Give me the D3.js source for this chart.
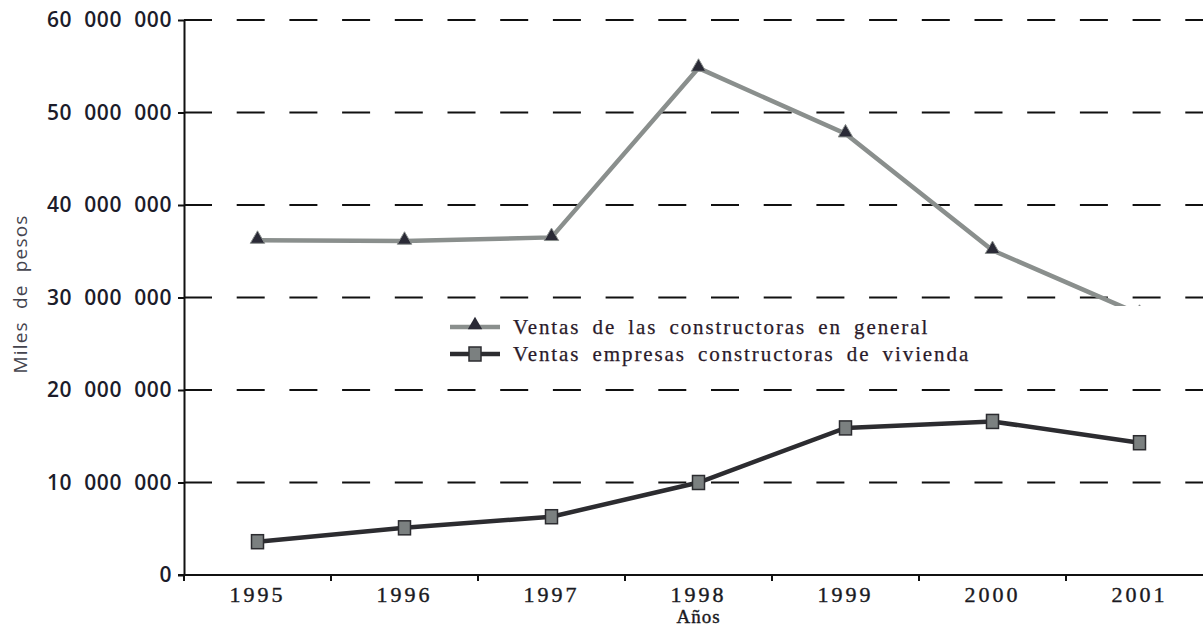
<!DOCTYPE html>
<html>
<head>
<meta charset="utf-8">
<script src="https://cdn.jsdelivr.net/npm/d3@7"></script>
<style>
  html, body { margin: 0; padding: 0; background: #fff; overflow: hidden; }
  svg { display: block; }
</style>
</head>
<body>
<div id="chart"></div>
<script>
// data
const years = ["1995", "1996", "1997", "1998", "1999", "2000", "2001"];
const ventasGeneral = [36200000, 36100000, 36500000, 54800000, 47700000, 35100000, 28200000];
const ventasVivienda = [3600000, 5100000, 6300000, 10000000, 15900000, 16600000, 14300000];
const yTicks = [0, 10000000, 20000000, 30000000, 40000000, 50000000, 60000000];
const legendLabels = ["Ventas de las constructoras en general", "Ventas empresas constructoras de vivienda"];

const width = 1203, height = 629;
const margin = { left: 184, bottom: 575, top: 20 };

const svg = d3.select("#chart").append("svg")
  .attr("width", width)
  .attr("height", height);

const x = d3.scaleBand().domain(years).range([margin.left, margin.left + 7 * 147]).padding(0);
const y = d3.scaleLinear().domain([0, 60000000]).range([margin.bottom, margin.top]);

const fmt = v => d3.format(",")(v).replace(/,/g, "  ");

// dashed grid
svg.append("g")
  .selectAll("line")
  .data(yTicks.slice(1))
  .join("line")
  .attr("x1", margin.left).attr("x2", width)
  .attr("y1", d => y(d)).attr("y2", d => y(d))
  .attr("stroke", "#111")
  .attr("stroke-width", 2)
  .attr("stroke-dasharray", "28,24.7");

// y axis
const yAxis = svg.append("g")
  .attr("transform", `translate(${margin.left},0)`)
  .call(d3.axisLeft(y).tickValues(yTicks).tickFormat(fmt).tickSizeInner(6).tickSizeOuter(0).tickPadding(6));
yAxis.select(".domain").attr("stroke", "#111").attr("stroke-width", 2);
yAxis.selectAll(".tick line").attr("stroke", "#111").attr("stroke-width", 2);
yAxis.selectAll(".tick text")
  .attr("fill", "#1c1c2a")
  .style("font-family", "'Open Sans', sans-serif")
  .style("font-size", "21px")
  .style("font-weight", 600)
  .style("letter-spacing", "0.6px")
  .style("white-space", "pre")
  .attr("dy", "0.32em");

// x axis
const xAxis = svg.append("g")
  .attr("transform", `translate(0,${margin.bottom})`)
  .call(d3.axisBottom(x).tickSize(0).tickPadding(8));
xAxis.select(".domain").remove();
xAxis.append("line")
  .attr("x1", margin.left - 6).attr("x2", width)
  .attr("stroke", "#111").attr("stroke-width", 2);
xAxis.selectAll(".bound")
  .data(years)
  .join("line")
  .attr("class", "bound")
  .attr("x1", d => x(d)).attr("x2", d => x(d))
  .attr("y1", 0).attr("y2", 6)
  .attr("stroke", "#111").attr("stroke-width", 2);
xAxis.selectAll(".tick text")
  .attr("fill", "#1a1a22")
  .attr("dy", "0.85em")
  .style("font-family", "'Liberation Serif', serif")
  .style("font-size", "22px")
  .style("letter-spacing", "3px")
  .attr("stroke", "#1a1a22")
  .attr("stroke-width", 0.4);

// axis titles
svg.append("text")
  .attr("x", x("1998") + x.bandwidth() / 2)
  .attr("y", 623)
  .attr("text-anchor", "middle")
  .attr("fill", "#1a1a22")
  .attr("stroke", "#1a1a22").attr("stroke-width", 0.4)
  .style("font-family", "'Liberation Serif', serif")
  .style("font-size", "19px")
  .style("letter-spacing", "1px")
  .text("Años");

svg.append("text")
  .attr("transform", `translate(27,${294}) rotate(-90)`)
  .attr("text-anchor", "middle")
  .attr("fill", "#44444e")
  .style("font-family", "'Open Sans', sans-serif")
  .style("font-size", "19px")
  .style("letter-spacing", "1.2px")
  .style("word-spacing", "6px")
  .text("Miles de pesos");

const line = d3.line()
  .x((d, i) => x(years[i]) + x.bandwidth() / 2)
  .y(d => y(d));

const tri = d3.symbol().type(d3.symbolTriangle).size(90);

// series 1
svg.append("path")
  .datum(ventasGeneral)
  .attr("fill", "none")
  .attr("stroke", "#8a8f8d")
  .attr("stroke-width", 4.5)
  .attr("d", line);
svg.append("g")
  .selectAll("path")
  .data(ventasGeneral)
  .join("path")
  .attr("transform", (d, i) => `translate(${x(years[i]) + x.bandwidth() / 2},${y(d) - 1})`)
  .attr("d", tri)
  .attr("fill", "#2a2a36")
  .attr("stroke", "#8a8f8d")
  .attr("stroke-width", 1);

// series 2
svg.append("path")
  .datum(ventasVivienda)
  .attr("fill", "none")
  .attr("stroke", "#2c2c30")
  .attr("stroke-width", 4.5)
  .attr("d", line);
svg.append("g")
  .selectAll("rect")
  .data(ventasVivienda)
  .join("rect")
  .attr("x", (d, i) => x(years[i]) + x.bandwidth() / 2 - 6)
  .attr("y", d => y(d) - 7)
  .attr("width", 12)
  .attr("height", 14)
  .attr("fill", "#7b8080")
  .attr("stroke", "#2c2c30")
  .attr("stroke-width", 1.5);

// legend (white box covers the line)
const legend = svg.append("g");
legend.append("rect")
  .attr("x", 440).attr("y", 306)
  .attr("width", 712).attr("height", 67)
  .attr("fill", "#fff");

const items = legend.selectAll("g")
  .data(legendLabels)
  .join("g")
  .attr("transform", (d, i) => `translate(0,${327 + i * 27})`);

items.append("line")
  .attr("x1", 450).attr("x2", 500)
  .attr("stroke", (d, i) => i === 0 ? "#8a8f8d" : "#2c2c30")
  .attr("stroke-width", 4.5);
items.filter((d, i) => i === 0).append("path")
  .attr("transform", "translate(475,-2)")
  .attr("d", tri)
  .attr("fill", "#2a2a36");
items.filter((d, i) => i === 1).append("rect")
  .attr("x", 469).attr("y", -7)
  .attr("width", 12).attr("height", 14)
  .attr("fill", "#7b8080")
  .attr("stroke", "#2c2c30")
  .attr("stroke-width", 1.5);
items.append("text")
  .attr("x", 513)
  .attr("dy", "0.35em")
  .attr("fill", "#2a1a2a")
  .attr("stroke", "#2a1a2a")
  .attr("stroke-width", 0.25)
  .style("font-family", "'Liberation Serif', serif")
  .style("font-size", "21px")
  .style("letter-spacing", "1.9px")
  .style("word-spacing", "5px")
  .text(d => d);
</script>
</body>
</html>
